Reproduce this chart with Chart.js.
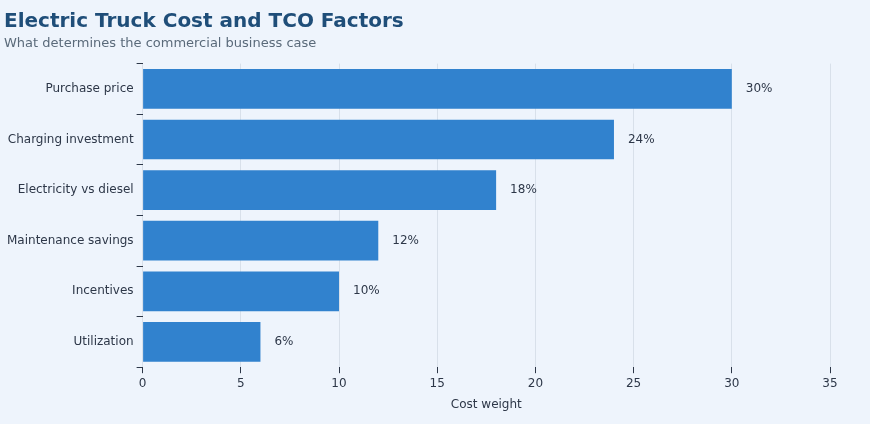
<!DOCTYPE html>
<html><head><meta charset="utf-8">
<script src="https://cdn.jsdelivr.net/npm/chart.js@4"></script>
<style>html,body{margin:0;padding:0;background:#eef4fc;}#w{width:870px;height:424px;position:relative}</style>
</head><body><div id="w"><canvas id="c"></canvas></div>
<script>
const categories=["Purchase price","Charging investment","Electricity vs diesel","Maintenance savings","Incentives","Utilization"];
const values=[30,24,18,12,10,6];
const xTicks=[0,5,10,15,20,25,30,35];
Chart.defaults.font.family="DejaVu Sans";
const labelPlugin={id:'lbl',afterDatasetsDraw(ch){const ctx=ch.ctx;const m=ch.getDatasetMeta(0);ctx.save();ctx.font='12px DejaVu Sans';ctx.fillStyle='#2d3748';ctx.textBaseline='middle';m.data.forEach((b,i)=>{ctx.fillText(values[i]+'%',b.x+14,b.y);});ctx.restore();}};
new Chart(document.getElementById('c'),{type:'bar',data:{labels:categories,datasets:[{data:values,backgroundColor:'#3182ce',barPercentage:0.98,categoryPercentage:0.8}]},
options:{indexAxis:'y',responsive:true,maintainAspectRatio:false,animation:false,
layout:{padding:{left:4,right:40,top:0,bottom:8}},
plugins:{legend:{display:false},tooltip:{enabled:false},
title:{display:true,text:'Electric Truck Cost and TCO Factors',align:'start',color:'#1f4e79',font:{size:20,weight:'bold'},padding:{top:10,bottom:2}},
subtitle:{display:true,text:'What determines the commercial business case',align:'start',color:'#5a6a7a',font:{size:13},padding:{bottom:12}}},
scales:{x:{min:0,max:35,afterBuildTicks(a){a.ticks=xTicks.map(v=>({value:v}));},border:{display:false},grid:{color:'#d8e0ea',tickLength:6,tickColor:'#2d3748'},ticks:{color:'#2d3748',font:{size:12}},title:{display:true,text:'Cost weight',color:'#2d3748',font:{size:12}}},
y:{border:{display:false},grid:{display:true,drawOnChartArea:false,tickLength:6,tickColor:'#2d3748'},ticks:{color:'#2d3748',font:{size:12}}}}},
plugins:[labelPlugin]});
</script></body></html>
